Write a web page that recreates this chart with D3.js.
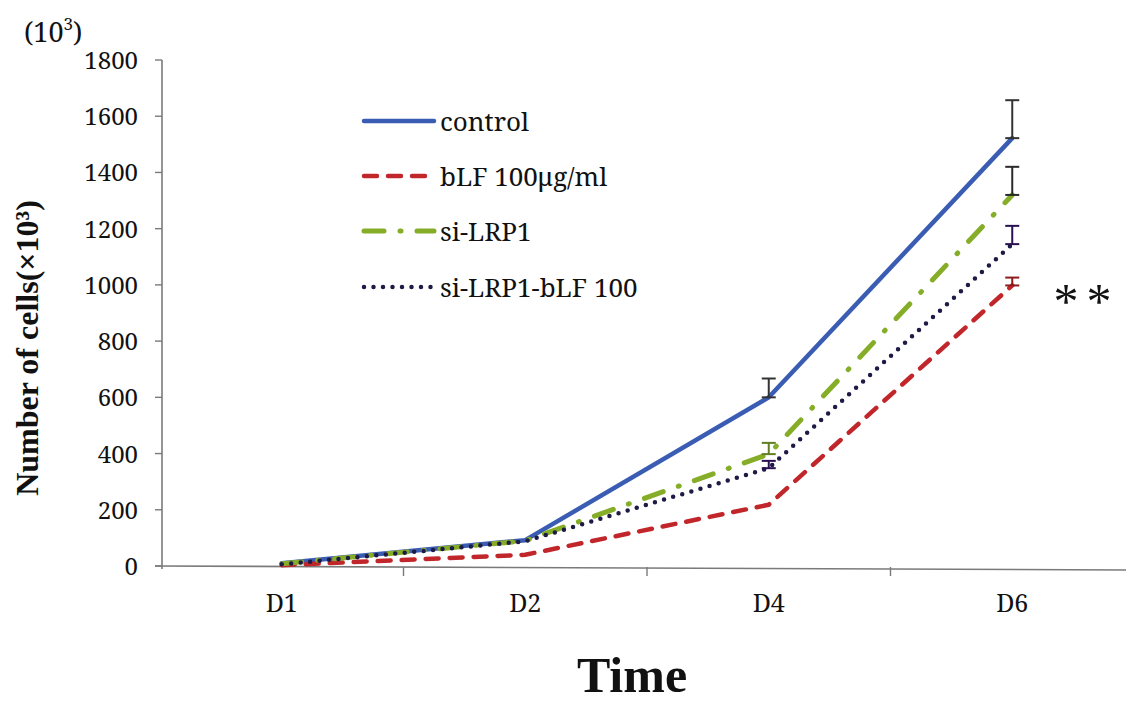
<!DOCTYPE html>
<html>
<head>
<meta charset="utf-8">
<script src="https://cdn.jsdelivr.net/npm/d3@7/dist/d3.min.js"></script>
<style>
  html, body { margin: 0; padding: 0; background: #fff; }
  svg { display: block; }
</style>
</head>
<body>
<svg id="chart" width="1126" height="702"></svg>
<script>
// Time points
const categories = ["D1", "D2", "D4", "D6"];

// Cell counts (x10^3) per group
const controlValues   = [10, 92, 600, 1522];
const bLFValues       = [3, 40, 218, 998];
const siLRP1Values    = [8, 90, 398, 1320];
const siLRP1bLFValues = [6, 88, 348, 1145];

// Upper error (x10^3) per group
const controlErr   = [0, 0, 67, 135];
const bLFErr       = [0, 0, 0, 28];
const siLRP1Err    = [0, 0, 40, 100];
const siLRP1bLFErr = [0, 0, 26, 65];

// Y axis ticks
const yTicks = [0, 200, 400, 600, 800, 1000, 1200, 1400, 1600, 1800];

const seriesNames = ["control", "bLF 100μg/ml", "si-LRP1", "si-LRP1-bLF 100"];

const series = [
  { name: seriesNames[0], values: controlValues, err: controlErr,
    color: "#3a5db3", width: 4.5, dash: null, cap: "round",
    errColor: ["#333", "#333", "#333", "#333"] },
  { name: seriesNames[1], values: bLFValues, err: bLFErr,
    color: "#c1262b", width: 4.5, dash: "13 11", cap: "round",
    errColor: ["#8e1b1b", "#8e1b1b", "#8e1b1b", "#8e1b1b"] },
  { name: seriesNames[2], values: siLRP1Values, err: siLRP1Err,
    color: "#86ad28", width: 5, dash: "20 16 1 16", cap: "round",
    errColor: ["#5f7f22", "#5f7f22", "#5f7f22", "#2a2a2a"] },
  { name: seriesNames[3], values: siLRP1bLFValues, err: siLRP1bLFErr,
    color: "#1d1b45", width: 4.5, dash: "0 9.5", cap: "round",
    errColor: ["#2a1052", "#2a1052", "#2a1052", "#2a1052"] }
];

const svg = d3.select("#chart");
const serif = "'Noto Serif', 'DejaVu Serif', serif";
const serifBold = "'Liberation Serif', serif";

const x = d3.scaleBand().domain(categories).range([160, 1134]);
const y = d3.scaleLinear().domain([0, 1800]).range([566, 60]);
const cx = d => x(d) + x.bandwidth() / 2;

const axisColor = "#7a7a7a";

// Y axis
svg.append("line")
  .attr("x1", 162).attr("x2", 162)
  .attr("y1", y(1800)).attr("y2", y(0) + 3)
  .attr("stroke", axisColor).attr("stroke-width", 1.6);

const yg = svg.append("g");
yTicks.forEach(t => {
  yg.append("line")
    .attr("x1", 155).attr("x2", 162)
    .attr("y1", y(t)).attr("y2", y(t))
    .attr("stroke", axisColor).attr("stroke-width", 1.4);
  yg.append("text")
    .attr("x", 138).attr("y", y(t) + 9)
    .attr("text-anchor", "end")
    .style("font-family", serif).style("font-size", "24px")
    .attr("fill", "#111")
    .text(t);
});

// X axis
svg.append("line")
  .attr("x1", 155).attr("x2", 1126)
  .attr("y1", y(0)).attr("y2", y(0) + 4)
  .attr("stroke", axisColor).attr("stroke-width", 1.6);

categories.slice(1).forEach(c => {
  const xt = x(c);
  svg.append("line")
    .attr("x1", xt).attr("x2", xt)
    .attr("y1", y(0) + 1).attr("y2", y(0) + 10)
    .attr("stroke", axisColor).attr("stroke-width", 1.4);
});

categories.forEach(c => {
  svg.append("text")
    .attr("x", cx(c)).attr("y", 612)
    .attr("text-anchor", "middle")
    .style("font-family", serif).style("font-size", "25px")
    .attr("fill", "#111")
    .text(c);
});

// Axis titles
svg.append("text")
  .attr("x", 632).attr("y", 692)
  .attr("text-anchor", "middle")
  .style("font-family", serifBold).style("font-size", "50px").style("font-weight", "bold")
  .attr("fill", "#111")
  .text("Time");

svg.append("text")
  .attr("transform", "translate(38,348) rotate(-90)")
  .attr("text-anchor", "middle")
  .style("font-family", serifBold).style("font-size", "32px").style("font-weight", "bold")
  .attr("fill", "#111")
  .text("Number of cells(×10³)");

// Unit label
const unit = svg.append("text")
  .attr("x", 24).attr("y", 42)
  .style("font-family", serif).style("font-size", "27px")
  .attr("fill", "#111");
unit.append("tspan").text("(10");
unit.append("tspan").style("font-size", "17px").attr("dy", -12).text("3");
unit.append("tspan").attr("dy", 12).text(")");

// Lines
const line = d3.line()
  .x((d, i) => cx(categories[i]))
  .y(d => y(d));

series.forEach(s => {
  svg.append("path")
    .datum(s.values)
    .attr("d", line)
    .attr("fill", "none")
    .attr("stroke", s.color)
    .attr("stroke-width", s.width)
    .attr("stroke-linecap", s.cap)
    .attr("stroke-linejoin", "round")
    .attr("stroke-dasharray", s.dash);
});

// Error bars (upper only, capped at both ends)
const capHalf = 7;
series.forEach(s => {
  s.values.forEach((v, i) => {
    const e = s.err[i];
    if (!e) return;
    const xc = cx(categories[i]);
    const g = svg.append("g")
      .attr("stroke", s.errColor[i]).attr("stroke-width", 2);
    g.append("line").attr("x1", xc).attr("x2", xc)
      .attr("y1", y(v)).attr("y2", y(v + e));
    g.append("line").attr("x1", xc - capHalf).attr("x2", xc + capHalf)
      .attr("y1", y(v + e)).attr("y2", y(v + e));
    g.append("line").attr("x1", xc - capHalf).attr("x2", xc + capHalf)
      .attr("y1", y(v)).attr("y2", y(v));
  });
});

// Significance marker
[1066, 1099].forEach(px => {
  svg.append("text")
    .attr("x", px).attr("y", 318)
    .attr("text-anchor", "middle")
    .style("font-family", serifBold).style("font-size", "50px")
    .attr("fill", "#111")
    .text("*");
});

// Legend
const legendY = [121, 176, 231, 287];
series.forEach((s, i) => {
  svg.append("line")
    .attr("x1", 364).attr("x2", 434)
    .attr("y1", legendY[i]).attr("y2", legendY[i])
    .attr("stroke", s.color)
    .attr("stroke-width", s.width)
    .attr("stroke-linecap", s.cap)
    .attr("stroke-dasharray", s.dash);
  svg.append("text")
    .attr("x", 440).attr("y", legendY[i] + 10)
    .style("font-family", serif).style("font-size", "26px")
    .attr("fill", "#111")
    .text(s.name);
});
</script>
</body>
</html>
